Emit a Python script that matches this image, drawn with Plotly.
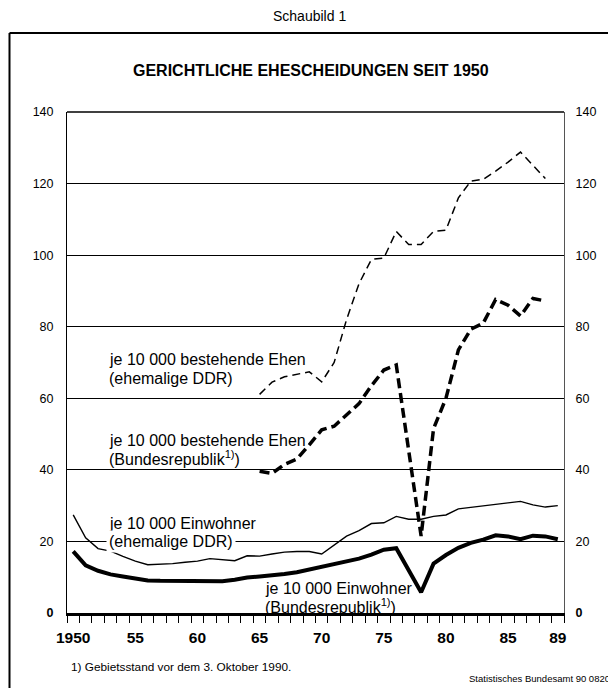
import plotly.graph_objects as go

# ---------------- data ----------------
years_all = list(range(1950, 1990))
years_ehen = list(range(1965, 1989))

# je 10 000 Einwohner, ehemalige DDR (thin solid)
ddr_einw = [27.4, 21.0, 18.0, 17.3, 15.8, 14.5, 13.5, 13.6, 13.8, 14.2,
            14.5, 15.2, 14.9, 14.6, 16.0, 15.9, 16.5, 17.0, 17.2, 17.2,
            16.5, 19.0, 21.5, 23.0, 25.0, 25.2, 27.0, 26.2, 26.2, 27.0,
            27.4, 29.1, 29.5, 29.8, 30.2, 30.7, 31.2, 30.2, 29.6, 30.0]

# je 10 000 Einwohner, Bundesrepublik (thick solid)
brd_einw = [17.2, 13.3, 11.8, 10.8, 10.2, 9.6, 9.1, 9.0, 9.0, 9.0,
            9.0, 9.0, 8.9, 9.3, 9.9, 10.2, 10.5, 10.9, 11.4, 12.2,
            13.0, 13.7, 14.5, 15.2, 16.3, 17.7, 18.1, 12.0, 5.8, 13.8,
            16.2, 18.2, 19.6, 20.5, 21.7, 21.4, 20.6, 21.6, 21.4, 20.6]

# je 10 000 bestehende Ehen, ehemalige DDR (thin dashed), 1965-1988
ddr_ehen = [61.1, 64.5, 66.0, 66.8, 67.4, 64.6, 70.0, 82.0, 92.0, 98.8,
            99.2, 106.6, 103.0, 103.0, 106.6, 107.0, 116.0, 120.7, 121.2, 123.5,
            126.0, 128.8, 125.0, 121.4]

# je 10 000 bestehende Ehen, Bundesrepublik (thick dashed), 1965-1988
brd_ehen = [39.6, 39.0, 41.5, 43.0, 47.0, 51.2, 52.2, 55.5, 58.5, 63.5,
            67.9, 69.3, 45.0, 21.5, 51.5, 60.0, 73.5, 79.3, 81.0, 87.6,
            86.0, 83.0, 87.9, 87.2]

x_tickvals = [1950, 1955, 1960, 1965, 1970, 1975, 1980, 1985, 1989]
x_ticktext = ["1950", "55", "60", "65", "70", "75", "80", "85", "89"]
x_minor_ticks = [1949.5 + i for i in range(41)]
y_tickvals = [0, 20, 40, 60, 80, 100, 120, 140]
y_ticktext = ["<b>0</b>", "20", "40", "60", "80", "100", "120", "140"]

# ---------------- layout geometry ----------------
# the page body has an 8px margin, so the figure is drawn 8px in from the window
OFF = 8
W, H = 616 - OFF, 688 - OFF
L, R, T, B = 67 - OFF, 52, 112 - OFF, 75
PW, PH = W - L - R, H - T - B


def px(x_screen):
    return (x_screen - OFF - L) / PW


def py(y_screen):
    return (H - B - (y_screen - OFF)) / PH


FONT = "Liberation Sans, Arial, Helvetica, sans-serif"

fig = go.Figure()
fig.add_trace(go.Scatter(x=years_all, y=ddr_einw, mode="lines",
                         line=dict(color="black", width=1.4), hoverinfo="skip"))
fig.add_trace(go.Scatter(x=years_all, y=brd_einw, mode="lines",
                         line=dict(color="black", width=4), hoverinfo="skip"))
fig.add_trace(go.Scatter(x=years_ehen, y=ddr_ehen, mode="lines", yaxis="y2",
                         line=dict(color="black", width=1.5, dash="8px,5px"),
                         hoverinfo="skip"))
fig.add_trace(go.Scatter(x=years_ehen, y=brd_ehen, mode="lines",
                         line=dict(color="black", width=3.5, dash="10px,5px"),
                         hoverinfo="skip"))

axis_common = dict(range=[0, 140], tickmode="array", tickvals=y_tickvals,
                   ticktext=y_ticktext, ticks="", zeroline=False,
                   tickfont=dict(family=FONT, size=12.5, color="black"),
                   fixedrange=True)

fig.update_layout(
    width=W, height=H,
    margin=dict(l=L, r=R, t=T, b=B, pad=0),
    paper_bgcolor="white", plot_bgcolor="white",
    showlegend=False,
    font=dict(family=FONT, color="black"),
    xaxis=dict(range=[1949.5, 1989.5], tickmode="array", tickvals=x_tickvals,
               ticktext=x_ticktext, ticks="", showgrid=False, zeroline=False,
               showline=True, linecolor="black", linewidth=3,
               tickfont=dict(family=FONT, size=15.5, color="black", weight="bold"),
               ticklabelstandoff=8,
               minor=dict(tickmode="array", tickvals=x_minor_ticks,
                          ticks="outside", ticklen=7, tickwidth=1,
                          tickcolor="black", showgrid=False),
               fixedrange=True),
    yaxis=dict(**axis_common, side="left", showgrid=True, gridcolor="black",
               gridwidth=1.2, showline=True, linecolor="black", linewidth=1,
               ticklabelstandoff=10),
    yaxis2=dict(**axis_common, side="right", overlaying="y", showgrid=False,
                showline=True, linecolor="#555555", linewidth=1,
                ticklabelstandoff=8),
)

titles = [
    ("Schaubild 1", 309, 16, 14),
    ("<b>GERICHTLICHE EHESCHEIDUNGEN SEIT 1950</b>", 311, 70, 16),
]
for text, xx, yy, size in titles:
    fig.add_annotation(text=text, x=px(xx), y=py(yy), xref="paper", yref="paper",
                       xanchor="center", yanchor="middle", showarrow=False,
                       font=dict(family=FONT, size=size, color="black"))

labels = [
    ("je 10 000 bestehende Ehen", 106, 359, 16, None),
    ("(ehemalige DDR)", 106, 378, 16, None),
    ("je 10 000 bestehende Ehen", 106, 440, 16, None),
    ("(Bundesrepublik<sup>1)</sup>)", 106, 458, 16, None),
    ("je 10 000 Einwohner", 106, 523, 16, None),
    ("(ehemalige DDR)", 106, 541, 16, "white"),
    ("je 10 000 Einwohner", 262, 588, 16, None),
    ("(Bundesrepublik<sup>1)</sup>)", 262, 606, 16, None),
    ("1) Gebietsstand vor dem 3. Oktober 1990.", 68, 667, 11.8, None),
]
for text, xx, yy, size, bg in labels:
    fig.add_annotation(text=text, x=px(xx), y=py(yy), xref="paper", yref="paper",
                       xanchor="left", yanchor="middle", showarrow=False,
                       bgcolor=bg if bg else "rgba(0,0,0,0)", borderpad=2,
                       font=dict(family=FONT, size=size, color="black"))

fig.add_annotation(text="Statistisches Bundesamt 90 0820", x=px(612), y=py(678),
                   xref="paper", yref="paper", xanchor="right", yanchor="middle",
                   showarrow=False, font=dict(family=FONT, size=9.5, color="black"))

# top border of the plotting area (line at 140)
fig.add_shape(type="line", xref="paper", yref="paper", x0=0, x1=1, y0=1, y1=1,
              line=dict(color="black", width=1.5))
# outer frame (left and top)
fig.add_shape(type="line", xref="paper", yref="paper", x0=px(9.5), x1=px(9.5),
              y0=py(33), y1=py(688), line=dict(color="black", width=2))
fig.add_shape(type="line", xref="paper", yref="paper", x0=px(9.5), x1=px(616),
              y0=py(33), y1=py(33), line=dict(color="black", width=2))

fig.write_html("out.html")
